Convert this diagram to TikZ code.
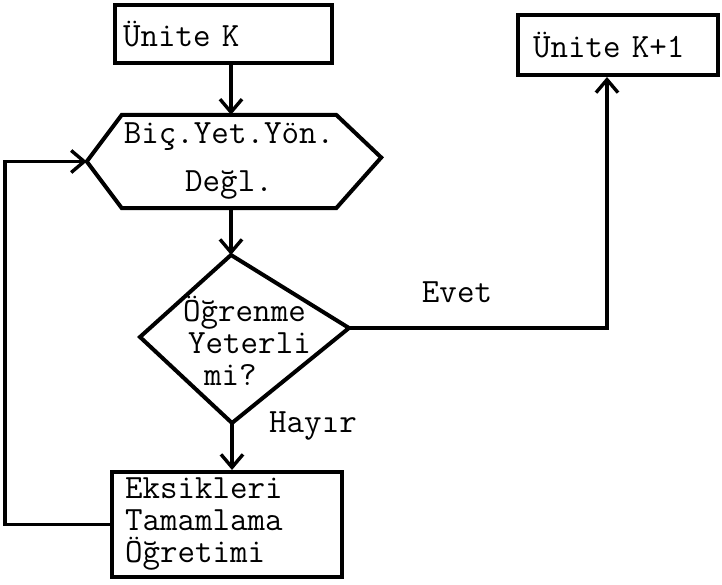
\documentclass[tikz,border=0pt]{standalone}
\usetikzlibrary{arrows.meta,calc}
\begin{document}
\begin{tikzpicture}[x=1pt,y=-1pt,
  txt/.style={font=\fontsize{34}{32}\selectfont\ttfamily},
  box/.style={draw,line width=4pt,inner xsep=8pt,inner ysep=0pt,txt},
  shp/.style={draw,line width=4pt,line join=miter},
  arr/.style={draw,line width=3.4pt,-{Straight Barb[length=13pt,width=22pt,line width=3.4pt]}},
  ln/.style={draw,line width=3.4pt}]
\useasboundingbox (0,0) rectangle (722,585);
\fill[white] (0,0) rectangle (722,585);
% Unite K
\node[box,minimum width=217pt,minimum height=58pt,text width=201pt,align=left] (uk) at (223.5,34) {Ünite K};
% Unite K+1
\node[box,minimum width=200pt,minimum height=60pt,text width=184pt,align=left,inner xsep=8pt] (uk1) at (618,45) {\hspace{7pt}Ünite K+1};
% hexagon
\node[txt,minimum width=214pt,minimum height=93pt,align=center,inner sep=0pt,
  font=\fontsize{34}{48}\selectfont\ttfamily] (hex) at (229,161.5) {Biç.Yet.Yön.\\Değl.};
\coordinate (hexL) at ($(hex.west)+(-35,0)$);
\coordinate (hexR) at ($(hex.east)+(45,-4)$);
\draw[shp] (hex.north west) -- (hex.north east) -- (hexR) -- (hex.south east) -- (hex.south west) -- (hexL) -- cycle;
% diamond
\coordinate (dtop) at (231,255);
\coordinate (dright) at (349,328);
\coordinate (dbot) at (232,423);
\coordinate (dleft) at (140,337);
\draw[shp] (dtop) -- (dright) -- (dbot) -- (dleft) -- cycle;
\node[txt,align=left,inner sep=0pt,anchor=north west] (dtext) at (183,296) {Öğrenme\\\hspace{5pt}Yeterli\\\hspace{21pt}mi?};
% Eksikleri box
\node[box,minimum width=220pt,minimum height=105pt,text width=204pt,align=left,inner xsep=13pt] (ek) at (227,524.5) {Eksikleri\\Tamamlama\\Öğretimi};
% labels
\node[txt,anchor=base] (evet) at (457,302) {Evet};
\node[txt,anchor=base] (hayir) at (313,432) {Hayır};
% connectors
\draw[arr] (uk.south -| dtop) -- (hex.north -| dtop);
\draw[arr] (hex.south -| dtop) -- (dtop);
\coordinate (up) at ($(uk1.south)+(-11,0)$);
\draw[arr] (dright) -| (up);
\draw[arr] (dbot) -- (dbot |- ek.north);
\draw[arr] (ek.west) -- ++(-105,0) |- (hexL);
\end{tikzpicture}
\end{document}
